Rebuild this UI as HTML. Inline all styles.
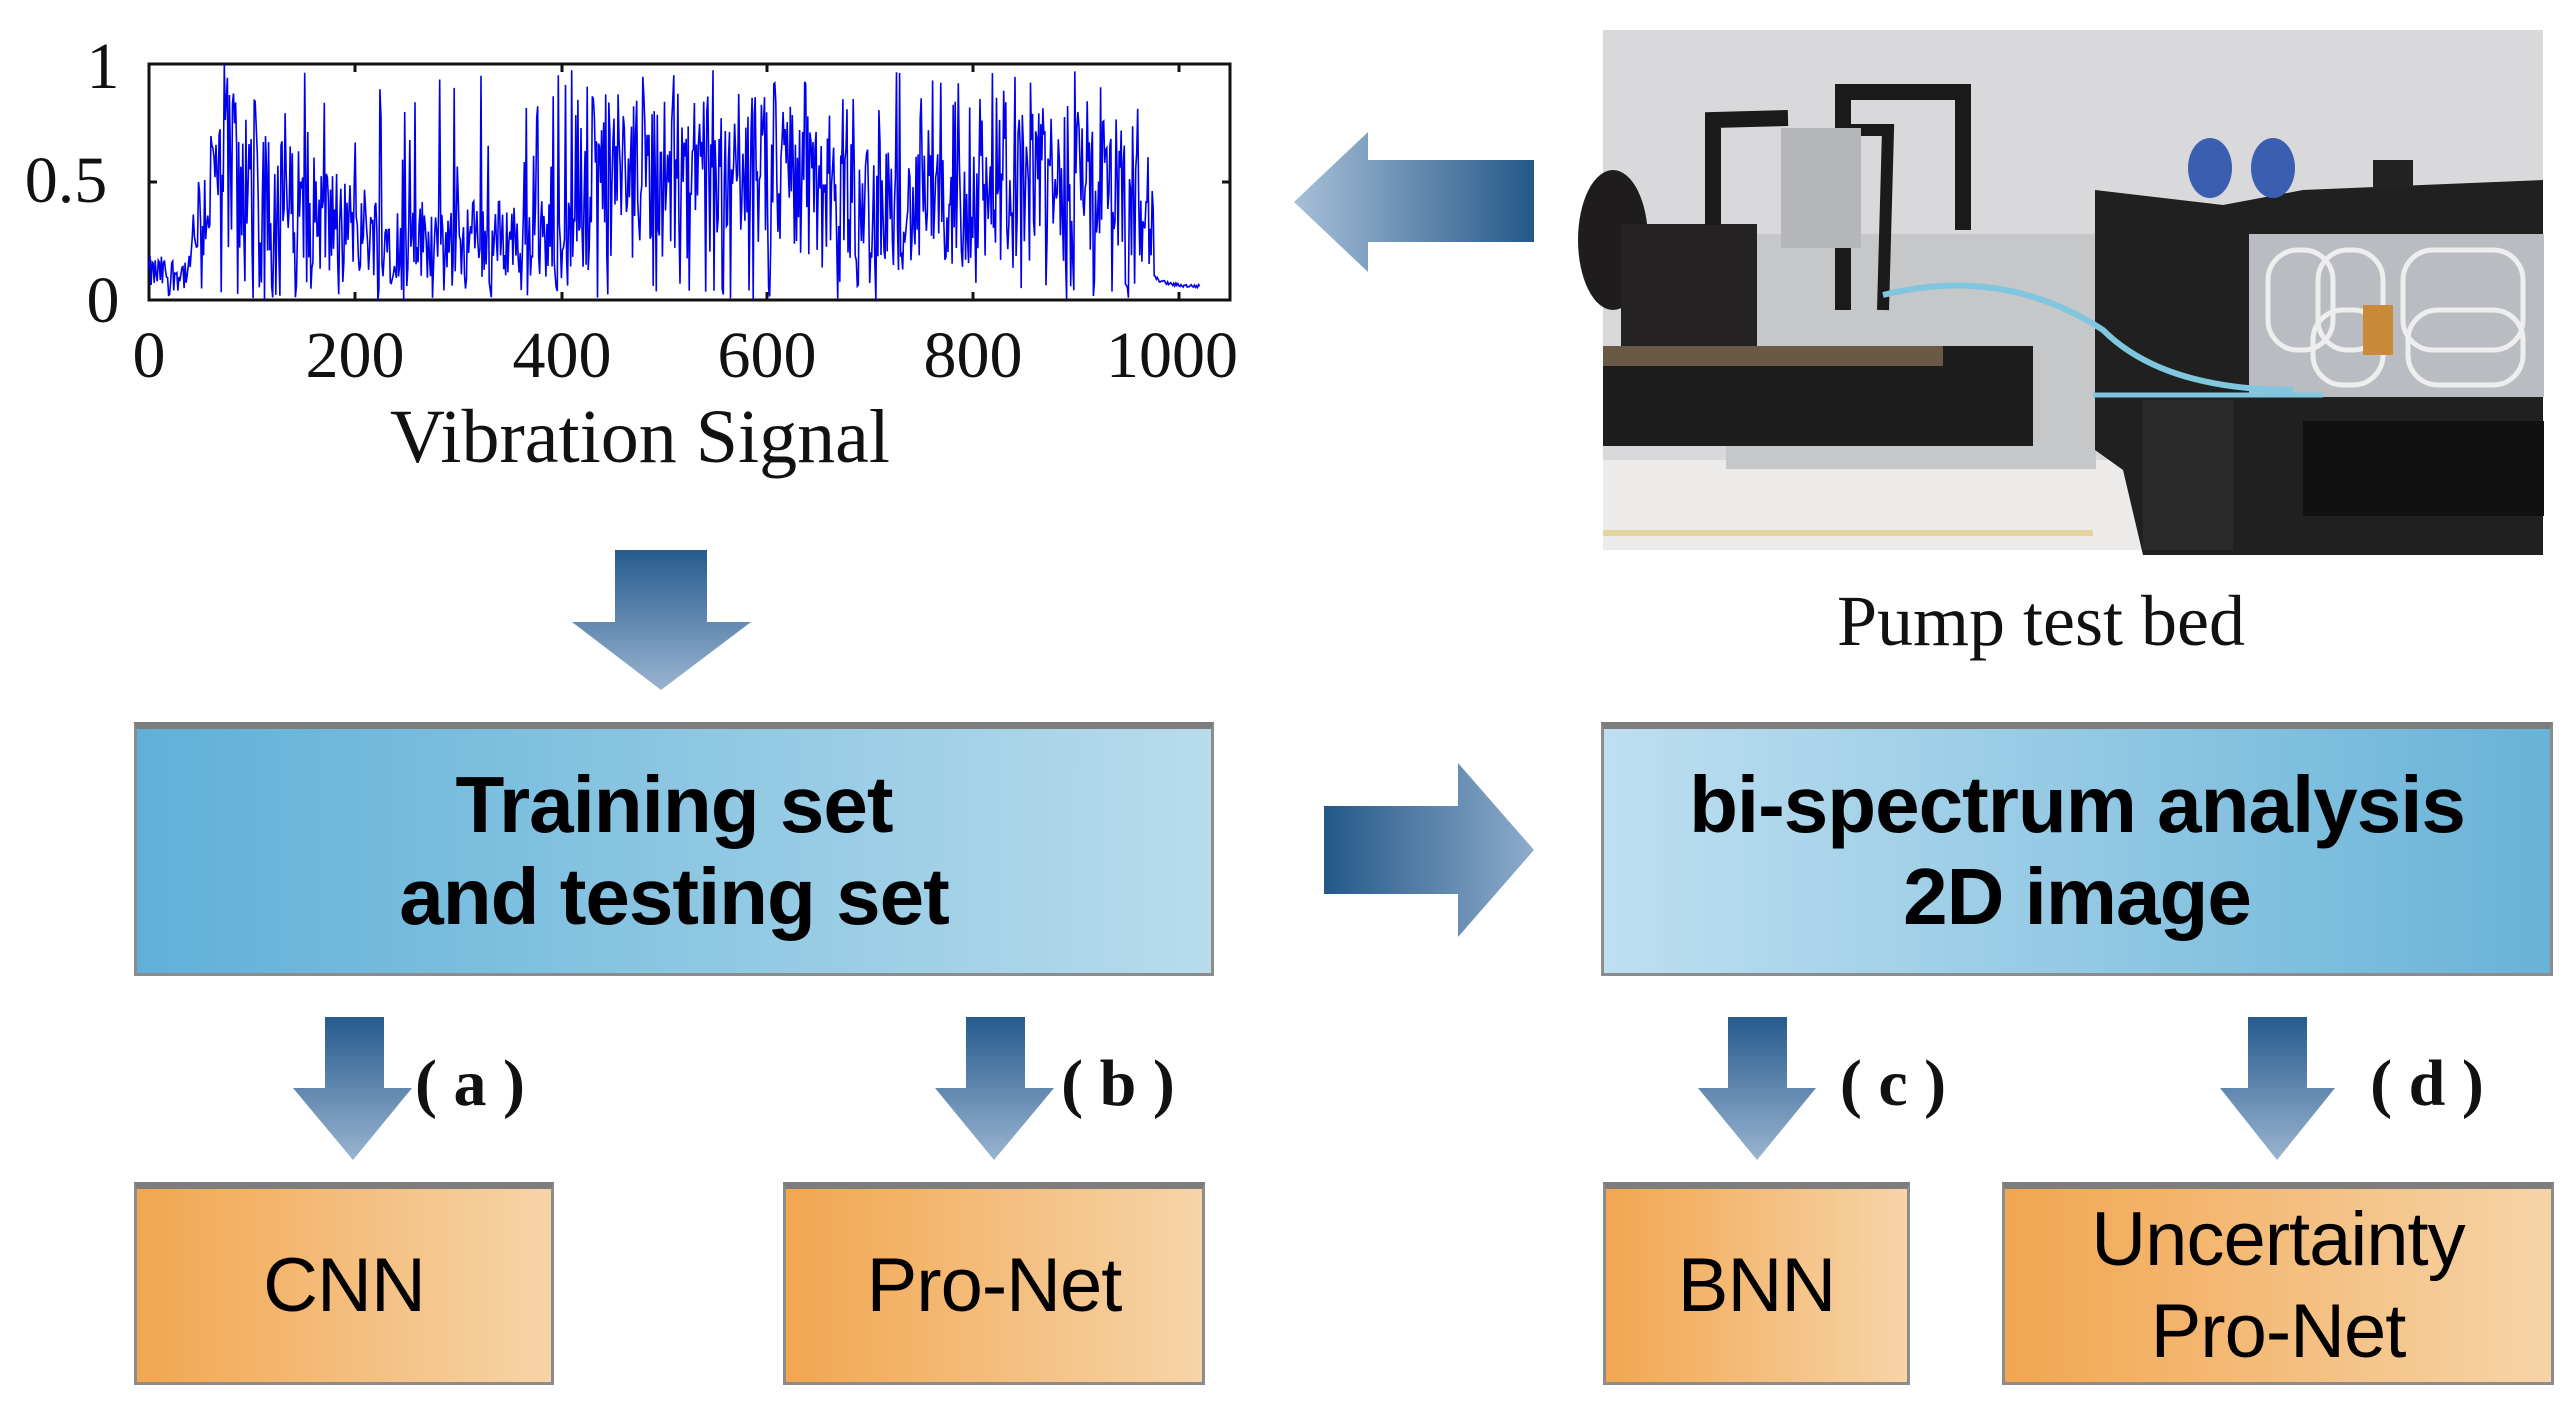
<!DOCTYPE html>
<html><head><meta charset="utf-8">
<style>
html,body{margin:0;padding:0;background:#fff}
body{width:2572px;height:1412px;position:relative;overflow:hidden;font-family:"Liberation Sans",sans-serif}
.abs{position:absolute}
.box{position:absolute;box-sizing:border-box;border:3px solid #8c8c8c;border-top:7px solid #7d7d7d;display:flex;align-items:center;justify-content:center;text-align:center;color:#000}
.blue1{background:linear-gradient(90deg,#5fb0d8,#b8dcec)}
.blue2{background:linear-gradient(90deg,#bedff0,#68b3d8)}
.or{background:linear-gradient(90deg,#f2a650,#f6d4a8)}
.bt{font-weight:bold;font-size:80px;line-height:92px;letter-spacing:-1px}
.ot{font-size:76px;line-height:92px;letter-spacing:-1px}
.lab{position:absolute;font-family:"Liberation Serif",serif;font-weight:bold;font-size:66px;color:#111;transform:translateX(-50%)}
</style></head><body>

<svg class="abs" style="left:0;top:0" width="2572" height="1412" xmlns="http://www.w3.org/2000/svg">
<defs>
<linearGradient id="gd" x1="0" y1="0" x2="0" y2="1"><stop offset="0" stop-color="#265b8e"/><stop offset="1" stop-color="#9ab4d0"/></linearGradient>
<linearGradient id="gl" x1="1" y1="0" x2="0" y2="0"><stop offset="0" stop-color="#245889"/><stop offset="1" stop-color="#a8c0d8"/></linearGradient>
<linearGradient id="gr" x1="0" y1="0" x2="1" y2="0"><stop offset="0" stop-color="#245889"/><stop offset="1" stop-color="#8eaccb"/></linearGradient>
</defs>
<rect x="149" y="64" width="1081" height="236" fill="none" stroke="#111" stroke-width="3"/>
<g stroke="#111" stroke-width="3">
<line x1="355" y1="64" x2="355" y2="72"/><line x1="562" y1="64" x2="562" y2="72"/><line x1="767" y1="64" x2="767" y2="72"/><line x1="973" y1="64" x2="973" y2="72"/><line x1="1179" y1="64" x2="1179" y2="72"/>
<line x1="355" y1="300" x2="355" y2="292"/><line x1="562" y1="300" x2="562" y2="292"/><line x1="767" y1="300" x2="767" y2="292"/><line x1="973" y1="300" x2="973" y2="292"/><line x1="1179" y1="300" x2="1179" y2="292"/>
<line x1="149" y1="182" x2="157" y2="182"/><line x1="1230" y1="182" x2="1222" y2="182"/>
</g>
<polyline id="sig" fill="none" stroke="#0000ee" stroke-width="1.6" points=""/>
<g font-family="Liberation Serif,serif" fill="#111" font-size="66" text-anchor="middle">
<text x="103" y="88">1</text><text x="66" y="202">0.5</text><text x="103" y="322">0</text>
<text x="149" y="377">0</text><text x="355" y="377">200</text><text x="562" y="377">400</text><text x="767" y="377">600</text><text x="973" y="377">800</text><text x="1172" y="377">1000</text>
<text x="640" y="462" font-size="76">Vibration Signal</text>
<text x="2041" y="645" font-size="72">Pump test bed</text>
</g>
<polygon points="615,550 707,550 707,622 751,622 661,690 572,622 615,622" fill="url(#gd)"/>
<polygon points="1534,160 1368,160 1368,132 1294,202 1368,272 1368,242 1534,242" fill="url(#gl)"/>
<polygon points="1324,806 1458,806 1458,763 1534,850 1458,937 1458,894 1324,894" fill="url(#gr)"/>
<polygon points="325,1017 384,1017 384,1088 412,1088 353,1160 293,1088 325,1088" fill="url(#gd)"/>
<polygon points="966,1017 1025,1017 1025,1088 1054,1088 994,1160 935,1088 966,1088" fill="url(#gd)"/>
<polygon points="1728,1017 1787,1017 1787,1088 1816,1088 1757,1160 1698,1088 1728,1088" fill="url(#gd)"/>
<polygon points="2248,1017 2307,1017 2307,1088 2335,1088 2277,1160 2220,1088 2248,1088" fill="url(#gd)"/>
<g transform="translate(1603,30)">
<rect width="940" height="520" fill="#d9d8db"/>
<rect y="430" width="940" height="90" fill="#ecebea"/>
<rect x="0" y="500" width="490" height="6" fill="#e6d4a0"/>
<rect x="123" y="204" width="370" height="235" fill="#c6c7c9"/>
<ellipse cx="10" cy="210" rx="35" ry="70" fill="#1e1c1d"/>
<rect x="18" y="194" width="136" height="122" fill="#242222"/>
<rect x="0" y="316" width="430" height="100" fill="#1e1d1e"/>
<rect x="0" y="316" width="340" height="20" fill="#6a5a45"/>
<path d="M110,195 L110,90 L185,88" stroke="#1a1a1a" stroke-width="16" fill="none"/>
<path d="M240,280 L240,62 L360,62 L360,200" stroke="#1a1a1a" stroke-width="16" fill="none"/>
<path d="M280,280 L285,100 L245,100" stroke="#1a1a1a" stroke-width="12" fill="none"/>
<rect x="178" y="98" width="80" height="120" fill="#b5b6b8"/>
<polygon points="492,160 620,175 700,160 940,150 940,525 540,525 520,440 492,420" fill="#202020"/>
<rect x="646" y="204" width="295" height="163" fill="#b9bcc0"/>
<g fill="none" stroke="#eee" stroke-width="5">
<rect x="665" y="220" width="65" height="100" rx="30"/><rect x="715" y="220" width="65" height="100" rx="30"/><rect x="800" y="220" width="120" height="100" rx="30"/>
<rect x="710" y="280" width="70" height="75" rx="30"/><rect x="805" y="280" width="115" height="75" rx="30"/>
</g>
<rect x="760" y="275" width="30" height="50" fill="#c98a3a"/>
<rect x="700" y="391" width="241" height="95" fill="#111"/>
<ellipse cx="607" cy="138" rx="22" ry="30" fill="#3a5fb0"/><ellipse cx="670" cy="138" rx="22" ry="30" fill="#3a5fb0"/>
<rect x="770" y="130" width="40" height="28" fill="#222"/>
<rect x="540" y="370" width="90" height="150" fill="#2a2a2a"/>
<path d="M280,265 Q400,235 500,300 Q560,360 690,360" stroke="#7fc6de" stroke-width="6" fill="none"/>
<path d="M490,365 L720,365" stroke="#7fc6de" stroke-width="5" fill="none"/>
</g>
</svg>

<div class="box blue1" style="left:134px;top:722px;width:1080px;height:254px"><div class="bt">Training set<br>and testing set</div></div>
<div class="box blue2" style="left:1601px;top:722px;width:952px;height:254px"><div class="bt">bi-spectrum analysis<br>2D image</div></div>

<div class="lab" style="left:470px;top:1046px">( a )</div>
<div class="lab" style="left:1118px;top:1046px">( b )</div>
<div class="lab" style="left:1893px;top:1046px">( c )</div>
<div class="lab" style="left:2427px;top:1046px">( d )</div>

<div class="box or" style="left:134px;top:1182px;width:420px;height:203px"><div class="ot">CNN</div></div>
<div class="box or" style="left:783px;top:1182px;width:422px;height:203px"><div class="ot">Pro-Net</div></div>
<div class="box or" style="left:1603px;top:1182px;width:307px;height:203px"><div class="ot">BNN</div></div>
<div class="box or" style="left:2002px;top:1182px;width:552px;height:203px"><div class="ot">Uncertainty<br>Pro-Net</div></div>

<script>
(function(){
var s=12345;function r(){s=(s*1103515245+12345)%2147483648;return s/2147483648;}
function env(i){
 if(i<40)return 0.15;
 if(i<70)return 0.25+(i-40)/30*0.6;
 if(i<130)return 0.85-(i-70)/60*0.3;
 if(i<260)return 0.55-(i-130)/130*0.25;
 if(i<430)return 0.35;
 if(i<650)return 0.7;
 if(i<720)return 0.55;
 if(i<840)return 0.5;
 if(i<960)return 0.65;
 if(i<975)return 0.4;
 return 0.06;
}
var pts=[];
for(var i=0;i<1020;i++){
 var e=env(i),v;
 if(i>=975){v=0.05+0.04*Math.exp(-(i-975)/12)+r()*0.015;}
 else{
  v=e*(0.25+r()*1.0);
  if(r()<0.12&&i>60)v=Math.min(0.98,0.55+r()*0.43);
  if(r()<0.07)v=r()*0.08;
 }
 if(v>1)v=1;if(v<0)v=0;
 var x=149+i*1.031,y=300-v*236;
 pts.push(x.toFixed(1)+","+y.toFixed(1));
}
document.getElementById("sig").setAttribute("points",pts.join(" "));
})();
</script>
</body></html>
